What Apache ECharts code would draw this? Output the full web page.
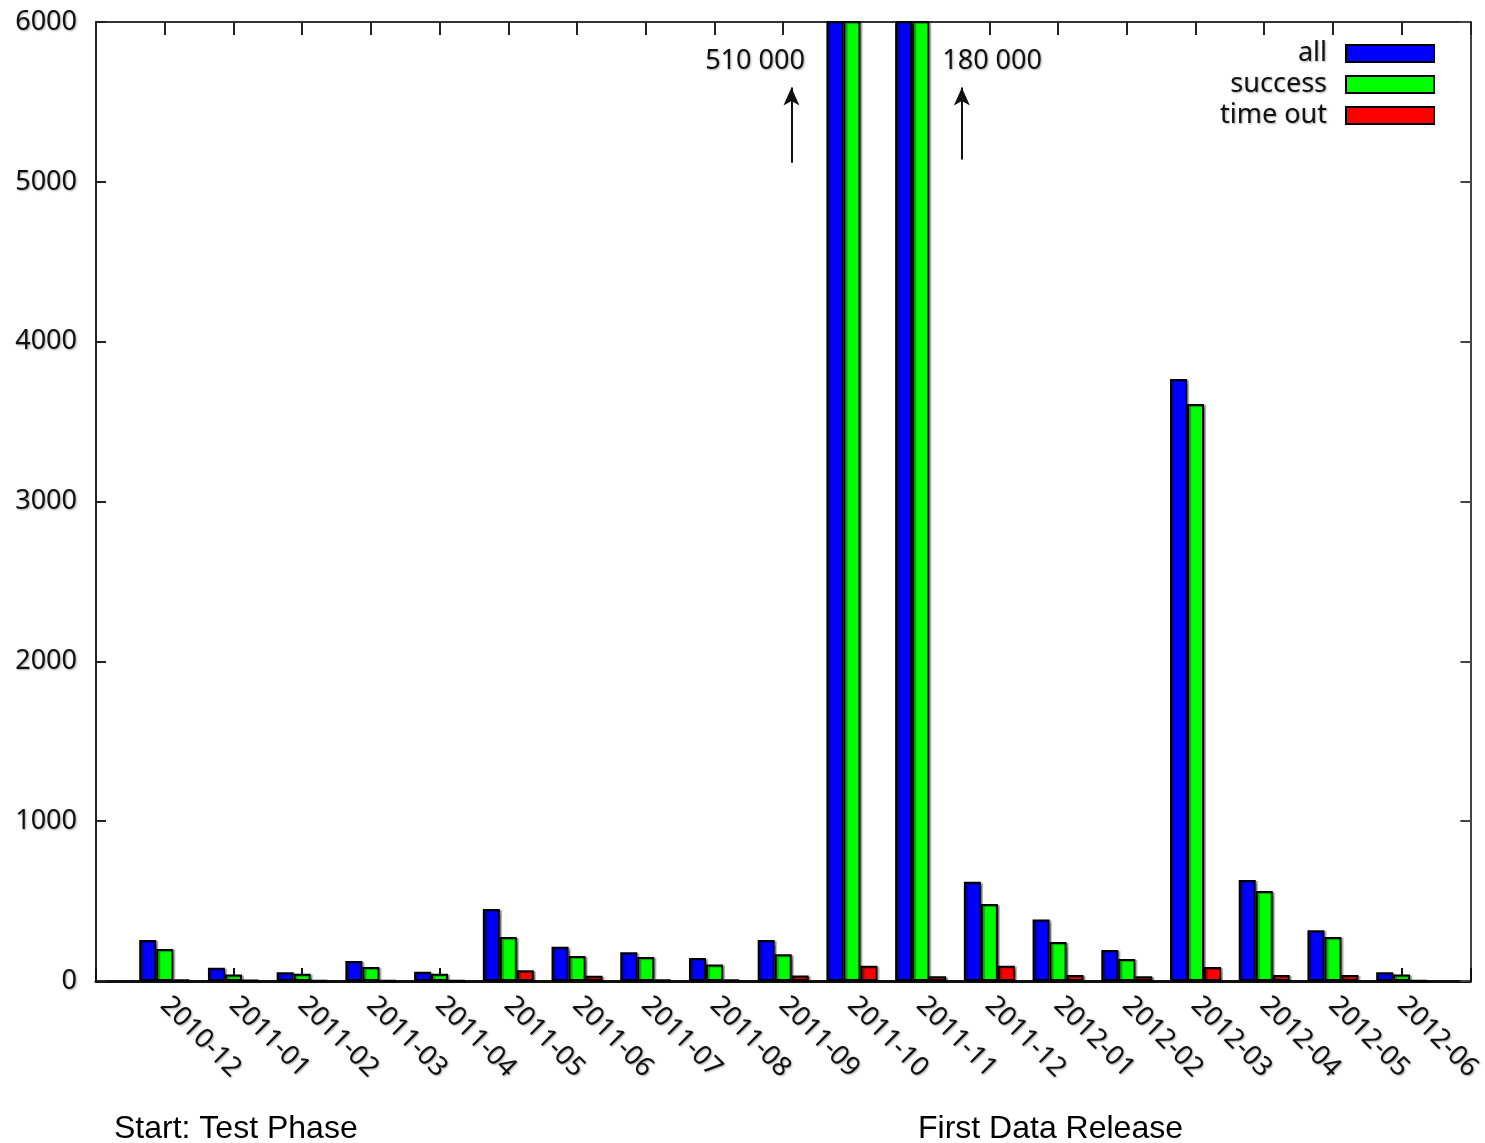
<!DOCTYPE html>
<html>
<head>
<meta charset="utf-8">
<script src="https://cdn.jsdelivr.net/npm/echarts@6/dist/echarts.min.js"></script>
<style>
html,body{margin:0;padding:0;background:#fff;}
#chart{width:1485px;height:1143px;}
</style>
</head>
<body>
<div id="chart"></div>
<script>
const categories = ['2010-12','2011-01','2011-02','2011-03','2011-04','2011-05','2011-06','2011-07','2011-08','2011-09','2011-10','2011-11','2011-12','2012-01','2012-02','2012-03','2012-04','2012-05','2012-06'];
const allValues     = [256, 83, 54, 125, 58, 450, 215, 180, 144, 256, 510000, 180000, 621, 384, 194, 3766, 632, 317, 54];
const successValues = [200, 40, 46, 88, 46, 275, 156, 150, 104, 167, 500000, 175000, 482, 244, 138, 3610, 563, 275, 40];
const timeoutValues = [10, 5, 3, 3, 3, 67, 33, 8, 10, 35, 96, 29, 96, 38, 29, 88, 38, 38, 3];
const seriesNames = ['all', 'success', 'time out'];
const yTicks = [0, 1000, 2000, 3000, 4000, 5000, 6000];
const annotationTexts = ['510 000', '180 000'];
const phaseTexts = ['Start: Test Phase', 'First Data Release'];

const chart = echarts.init(document.getElementById('chart'));
const shadowText = {textShadowColor: 'rgba(0,0,0,0.35)', textShadowBlur: 2, textShadowOffsetX: 1, textShadowOffsetY: 1};
const FONT = '"Noto Sans", sans-serif';

function toPoints(arr) { return arr.map((v, i) => [i, v]); }

function barSeries(name, values, color, extra) {
  return Object.assign({
    name: name,
    type: 'bar',
    data: toPoints(values),
    barWidth: 17,
    barGap: '0%',
    xAxisIndex: 0,
    yAxisIndex: 0,
    itemStyle: {
      color: color,
      borderColor: '#000',
      borderWidth: 2,
      shadowColor: 'rgba(0,0,0,0.35)',
      shadowOffsetX: 2,
      shadowOffsetY: 1,
      shadowBlur: 1
    },
    emphasis: {disabled: true},
    animation: false
  }, extra || {});
}

const option = {
  backgroundColor: '#fff',
  animation: false,
  grid: {left: 96, right: 13, top: 22, bottom: 162, containLabel: false},
  legend: {
    data: seriesNames,
    orient: 'vertical',
    align: 'right',
    right: 45,
    top: 35,
    itemWidth: 88,
    itemHeight: 17,
    itemGap: 4,
    icon: 'rect',
    selectedMode: false,
    textStyle: Object.assign({fontFamily: FONT, fontSize: 27, color: '#111', lineHeight: 27, padding: [0, 14, 0, 0]}, shadowText)
  },
  xAxis: [{
    type: 'value',
    min: -1, max: 19, interval: 1,
    position: 'bottom',
    axisLine: {show: true, onZero: false, lineStyle: {color: '#111', width: 3}},
    axisTick: {show: true, inside: true, length: 13, lineStyle: {color: '#111', width: 2}},
    splitLine: {show: false},
    axisLabel: Object.assign({
      show: true,
      rotate: -45,
      margin: 20,
      fontFamily: FONT,
      fontSize: 27,
      color: '#111',
      formatter: v => (categories[v] !== undefined ? categories[v] : '')
    }, shadowText)
  }, {
    type: 'value',
    min: -1, max: 19, interval: 1,
    position: 'top',
    axisLine: {show: true, onZero: false, lineStyle: {color: '#333', width: 2}},
    axisTick: {show: true, inside: true, length: 13, lineStyle: {color: '#222', width: 2}},
    splitLine: {show: false},
    axisLabel: {show: false}
  }],
  yAxis: [{
    type: 'value',
    min: yTicks[0], max: yTicks[yTicks.length - 1], interval: 1000,
    position: 'left',
    axisLine: {show: true, onZero: false, lineStyle: {color: '#222', width: 2}},
    axisTick: {show: true, inside: true, length: 10, lineStyle: {color: '#222', width: 2}},
    splitLine: {show: false},
    axisLabel: Object.assign({fontFamily: FONT, fontSize: 27, color: '#111', margin: 19, formatter: v => String(v)}, shadowText)
  }, {
    type: 'value',
    min: yTicks[0], max: yTicks[yTicks.length - 1], interval: 1000,
    position: 'right',
    axisLine: {show: true, onZero: false, lineStyle: {color: '#444', width: 2}},
    axisTick: {show: true, inside: true, length: 10, lineStyle: {color: '#444', width: 2}},
    splitLine: {show: false},
    axisLabel: {show: false}
  }],
  series: [
    barSeries(seriesNames[0], allValues, '#0000ff'),
    barSeries(seriesNames[1], successValues, '#00ff00', {
      markLine: {
        silent: true,
        symbol: ['none', 'arrow'],
        symbolSize: [12, 18],
        label: {show: false},
        lineStyle: {color: '#111', width: 2, type: 'solid'},
        animation: false,
        data: [
          [{coord: [9.12, 5120]}, {coord: [9.12, 5590]}],
          [{coord: [11.6, 5140]}, {coord: [11.6, 5590]}]
        ]
      },
      markPoint: {
        silent: true,
        symbol: 'circle',
        symbolSize: 0,
        animation: false,
        label: Object.assign({show: true, position: 'inside', fontFamily: FONT, fontSize: 27, color: '#111'}, shadowText),
        data: [
          {coord: [8.59, 5755], value: annotationTexts[0], label: {formatter: annotationTexts[0]}},
          {coord: [12.04, 5755], value: annotationTexts[1], label: {formatter: annotationTexts[1]}}
        ]
      }
    }),
    barSeries(seriesNames[2], timeoutValues, '#ff0000')
  ],
  graphic: [
    {type: 'text', left: 114, top: 1113, style: {text: phaseTexts[0], font: '32px "Liberation Sans", Arial, sans-serif', fill: '#000'}},
    {type: 'text', left: 918, top: 1113, style: {text: phaseTexts[1], font: '32px "Liberation Sans", Arial, sans-serif', fill: '#000'}}
  ]
};
chart.setOption(option);
</script>
</body>
</html>
